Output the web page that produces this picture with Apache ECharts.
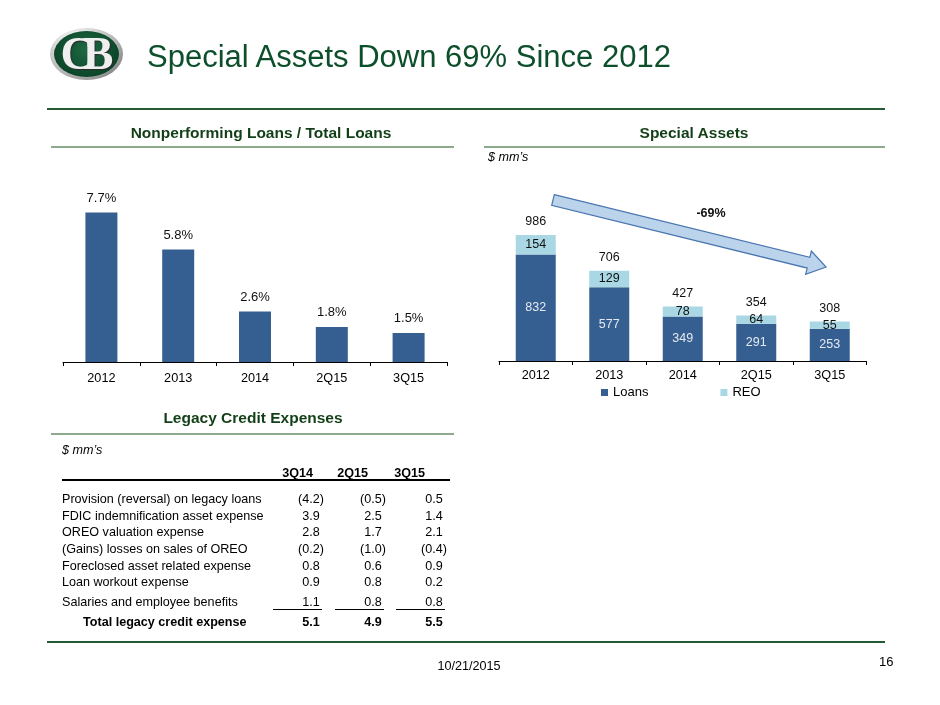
<!DOCTYPE html>
<html>
<head>
<meta charset="utf-8">
<title>Special Assets Down 69% Since 2012</title>
<script src="https://cdn.jsdelivr.net/npm/echarts@6/dist/echarts.min.js"></script>
<style>
body{margin:0;background:#fff;}
#page{position:relative;width:940px;height:705px;overflow:hidden;font-family:'Liberation Sans',Arial,Helvetica,sans-serif;color:#000;}
#chart{position:absolute;left:0;top:0;width:940px;height:705px;}
.t{position:absolute;white-space:nowrap;}
.hd{position:absolute;font-weight:bold;font-size:15.5px;color:#123f17;text-align:center;line-height:20px;white-space:nowrap;}
.rule{position:absolute;height:2px;}
.cell{position:absolute;white-space:nowrap;font-size:12.6px;line-height:16px;}
</style>
</head>
<body>
<div id="page">
	<div id="chart"></div>

	<!-- logo -->
	<div style="position:absolute;left:50px;top:28px;width:73px;height:52px;border-radius:50%;background:radial-gradient(ellipse at 35% 25%,#ffffff,#b5b5b5 60%,#5a5a5a);"></div>
	<div style="position:absolute;left:54px;top:31px;width:65px;height:46px;border-radius:50%;background:radial-gradient(ellipse at 50% 40%,#1e6a44,#0a4125 80%);"></div>
	<div class="t" style="left:54px;top:30px;width:65px;line-height:48px;text-align:center;font-family:'Liberation Serif','DejaVu Serif',serif;font-weight:bold;font-size:46px;color:#efefef;letter-spacing:-11px;text-indent:-10px;text-shadow:1px 1px 1px #2a2a2a;">CB</div>

	<div class="t" style="left:147px;top:41px;line-height:32px;font-size:31px;color:#0d4f2b;">Special Assets Down 69% Since 2012</div>

	<div class="rule" style="left:47px;top:108px;width:838px;background:#245a36;"></div>

	<div class="hd" style="left:111px;top:123px;width:300px;">Nonperforming Loans / Total Loans</div>
	<div class="rule" style="left:51px;top:146px;width:403px;background:#8daa8d;"></div>

	<div class="hd" style="left:594px;top:123px;width:200px;">Special Assets</div>
	<div class="rule" style="left:484px;top:146px;width:401px;background:#8daa8d;"></div>
	<div class="t" style="left:488px;top:149px;line-height:16px;font-size:12.6px;font-style:italic;">$ mm’s</div>

	<div class="hd" style="left:103px;top:408px;width:300px;">Legacy Credit Expenses</div>
	<div class="rule" style="left:51px;top:433px;width:403px;background:#8daa8d;"></div>
	<div class="t" style="left:62px;top:442px;line-height:16px;font-size:12.6px;font-style:italic;">$ mm’s</div>

	<div id="table"></div>

	<div class="rule" style="left:47px;top:641px;width:838px;background:#245a36;"></div>
	<div class="t" style="left:419px;top:658px;width:100px;text-align:center;line-height:16px;font-size:12.6px;">10/21/2015</div>
	<div class="t" style="left:879px;top:654px;line-height:16px;font-size:13px;">16</div>
</div>

<script>
// nonperforming loans / total loans (%)
var npCategories = ['2012','2013','2014','2Q15','3Q15'];
var npRatio = [7.7, 5.8, 2.6, 1.8, 1.5];

// special assets, $ mm's
var saCategories = ['2012','2013','2014','2Q15','3Q15'];
var saLoans = [832, 577, 349, 291, 253];
var saREO = [154, 129, 78, 64, 55];
var saTotal = [986, 706, 427, 354, 308];

// legacy credit expenses, $ mm's
var tblCols = ['3Q14','2Q15','3Q15'];
var tblLabels = [
	'Provision (reversal) on legacy loans',
	'FDIC indemnification asset expense',
	'OREO valuation expense',
	'(Gains) losses on sales of OREO',
	'Foreclosed asset related expense',
	'Loan workout expense',
	'Salaries and employee benefits'
];
var tbl3Q14 = [-4.2, 3.9, 2.8, -0.2, 0.8, 0.9, 1.1];
var tbl2Q15 = [-0.5, 2.5, 1.7, -1.0, 0.6, 0.8, 0.8];
var tbl3Q15 = [0.5, 1.4, 2.1, -0.4, 0.9, 0.2, 0.8];
var tblTotalLabel = 'Total legacy credit expense';
var tblTotals = [5.1, 4.9, 5.5];

var FONT = "'Liberation Sans', Arial, Helvetica, sans-serif";
var LOANS = '#365f91';
var REO = '#a9d8e4';

function fmt(v){
	if(v < 0){
		return '(' + Math.abs(v).toFixed(1) + ')';
	}
	return v.toFixed(1) + '<span style="visibility:hidden">)</span>';
}

function buildTable(){
	var el = document.getElementById('table');
	var html = [];
	var colRight = [324, 386, 447];
	var hdRight = [313, 368, 425];
	var rowY = [499, 516, 532, 549, 566, 582, 602];
	var colVals = [tbl3Q14, tbl2Q15, tbl3Q15];
	var i, j;
	for(j = 0; j < tblCols.length; j++){
		html.push('<div class="cell" style="font-weight:bold;left:' + (hdRight[j] - 60) + 'px;width:60px;text-align:right;top:' + (473 - 8) + 'px;">' + tblCols[j] + '</div>');
	}
	html.push('<div style="position:absolute;left:62px;top:479px;width:388px;height:1.5px;background:#000;"></div>');
	for(i = 0; i < tblLabels.length; i++){
		html.push('<div class="cell" style="left:62px;top:' + (rowY[i] - 8) + 'px;">' + tblLabels[i] + '</div>');
		for(j = 0; j < colVals.length; j++){
			html.push('<div class="cell" style="left:' + (colRight[j] - 60) + 'px;width:60px;text-align:right;top:' + (rowY[i] - 8) + 'px;">' + fmt(colVals[j][i]) + '</div>');
		}
	}
	for(j = 0; j < colVals.length; j++){
		html.push('<div style="position:absolute;left:' + (colRight[j] - 51) + 'px;top:609px;width:49px;height:1px;background:#000;"></div>');
	}
	html.push('<div class="cell" style="font-weight:bold;left:83px;top:' + (622 - 8) + 'px;">' + tblTotalLabel + '</div>');
	for(j = 0; j < tblTotals.length; j++){
		html.push('<div class="cell" style="font-weight:bold;left:' + (colRight[j] - 60) + 'px;width:60px;text-align:right;top:' + (622 - 8) + 'px;">' + fmt(tblTotals[j]) + '</div>');
	}
	el.innerHTML = html.join('');
}

function arrowPoints(sx, sy, ex, ey, w, h, len){
	var dx = ex - sx, dy = ey - sy;
	var d = Math.sqrt(dx * dx + dy * dy);
	var ux = dx / d, uy = dy / d;
	var nx = -uy, ny = ux;
	var bx = ex - ux * len, by = ey - uy * len;
	return [
		[sx - nx * w, sy - ny * w],
		[bx - nx * w, by - ny * w],
		[bx - nx * h, by - ny * h],
		[ex, ey],
		[bx + nx * h, by + ny * h],
		[bx + nx * w, by + ny * w],
		[sx + nx * w, sy + ny * w]
	];
}

function axisX(idx, cats, margin){
	return {
		type: 'category',
		gridIndex: idx,
		data: cats,
		axisLine: {show: true, lineStyle: {color: '#000', width: 1}},
		axisTick: {show: true, length: 4, lineStyle: {color: '#000'}},
		axisLabel: {color: '#000', fontSize: 12.7, fontFamily: FONT, margin: margin},
		splitLine: {show: false}
	};
}

function axisY(idx, max){
	return {
		type: 'value',
		gridIndex: idx,
		min: 0,
		max: max,
		show: false,
		splitLine: {show: false}
	};
}

buildTable();

var chart = echarts.init(document.getElementById('chart'), null, {renderer: 'canvas'});
chart.setOption({
	animation: false,
	textStyle: {fontFamily: FONT},
	grid: [
		{left: 63, top: 168, width: 384, height: 194},
		{left: 499, top: 182, width: 367.5, height: 179}
	],
	xAxis: [axisX(0, npCategories, 10), axisX(1, saCategories, 8)],
	yAxis: [axisY(0, 10), axisY(1, 1400)],
	legend: {
		data: ['Loans', 'REO'],
		left: 596,
		top: 381,
		icon: 'rect',
		itemWidth: 7,
		itemHeight: 7,
		itemGap: 72,
		textStyle: {color: '#000', fontSize: 13, fontFamily: FONT}
	},
	series: [
		{
			name: 'NPL',
			type: 'bar',
			xAxisIndex: 0,
			yAxisIndex: 0,
			data: npRatio,
			barWidth: 32,
			itemStyle: {color: LOANS},
			label: {
				show: true,
				position: 'top',
				distance: 8,
				color: '#111',
				fontSize: 13,
				formatter: function(p){ return p.value.toFixed(1) + '%'; }
			}
		},
		{
			name: 'Loans',
			type: 'bar',
			xAxisIndex: 1,
			yAxisIndex: 1,
			stack: 'sa',
			data: saLoans,
			barWidth: 40,
			itemStyle: {color: LOANS},
			label: {show: true, position: 'inside', color: '#e4e9f1', fontSize: 12.5}
		},
		{
			name: 'REO',
			type: 'bar',
			xAxisIndex: 1,
			yAxisIndex: 1,
			stack: 'sa',
			data: saREO,
			barWidth: 40,
			itemStyle: {color: REO},
			label: {show: true, position: 'inside', color: '#111', fontSize: 12.5}
		},
		{
			name: 'Total',
			type: 'scatter',
			xAxisIndex: 1,
			yAxisIndex: 1,
			data: saTotal,
			symbolSize: 1,
			itemStyle: {color: '#fff', opacity: 1},
			label: {show: true, position: 'top', distance: 6, color: '#111', opacity: 1, fontSize: 12.5},
			silent: true
		}
	],
	graphic: [
		{
			type: 'polygon',
			shape: {points: arrowPoints(553, 200, 826, 267, 5.5, 12, 18)},
			style: {fill: '#bcd3ec', stroke: '#4a76b0', lineWidth: 1.2},
			z: 1
		},
		{
			type: 'text',
			x: 711,
			y: 214,
			style: {
				text: '-69%',
				font: 'bold 12.5px ' + FONT,
				fill: '#111',
				align: 'center',
				verticalAlign: 'middle'
			}
		}
	]
});
</script>
</body>
</html>
